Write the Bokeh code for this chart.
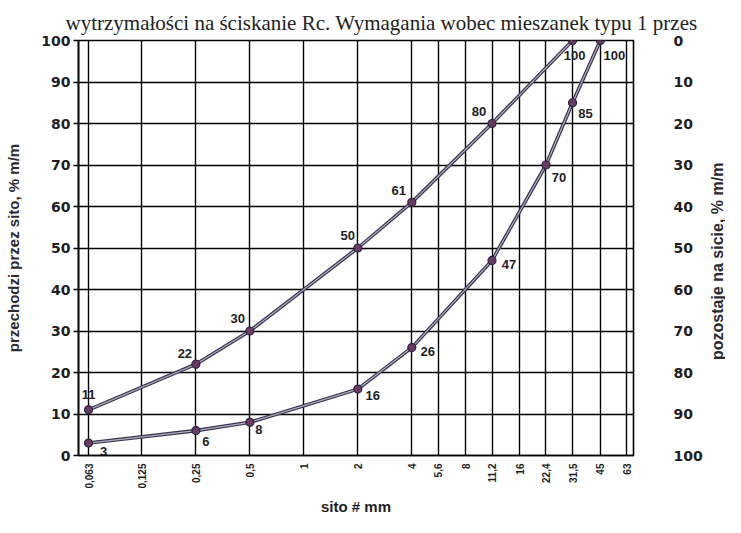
from bokeh.plotting import figure
from bokeh.layouts import row
from bokeh.models import Range1d, LinearAxis, FixedTicker
from bokeh.core.properties import value
from bokeh.embed import file_html
from bokeh.resources import INLINE

# ---- data ----
sieve_sizes = [0.063, 0.125, 0.25, 0.5, 1, 2, 4, 5.6, 8, 11.2, 16, 22.4, 31.5, 45, 63]
sieve_labels = ["0,063", "0,125", "0,25", "0,5", "1", "2", "4", "5,6", "8",
                "11,2", "16", "22,4", "31,5", "45", "63"]
pass_ticks = [0, 10, 20, 30, 40, 50, 60, 70, 80, 90, 100]
retained_ticks = [0, 10, 20, 30, 40, 50, 60, 70, 80, 90, 100]

upper_x = [0.063, 0.25, 0.5, 2, 4, 11.2, 31.5]
upper_y = [11, 22, 30, 50, 61, 80, 100]
lower_x = [0.063, 0.25, 0.5, 2, 4, 11.2, 22.4, 31.5, 45]
lower_y = [3, 6, 8, 16, 26, 47, 70, 85, 100]

# label offsets (screen px)
upper_dx = [0, -11, -12, -10, -13, -13, 2]
upper_dy = [-15, -11, -13, -13, -12, -12, 15]
lower_dx = [15, 10, 9, 15, 16, 17, 13, 13, 14]
lower_dy = [8, 11, 7, 6, 4, 4, 12, 11, 15]

INK = "#1e1e24"
SANS = "Liberation Sans"
W, H = 705, 517
TOP, BOTTOM = 40, 55

p = figure(width=W, height=H, x_axis_type="log",
           x_range=Range1d(0.0554, 68.9), y_range=Range1d(0, 100),
           output_backend="svg", toolbar_location=None,
           min_border_left=78, min_border_right=69,
           min_border_top=TOP, min_border_bottom=BOTTOM)
p.background_fill_color = "white"
p.border_fill_color = "white"
p.outline_line_color = "black"
p.outline_line_width = 1.6

# header line from the scanned page
p.title.text = "wytrzymałości na ściskanie Rc. Wymagania wobec mieszanek typu 1 przes"
p.title.text_font = "Liberation Serif"
p.title.text_font_style = "normal"
p.title.text_font_size = "21px"
p.title.text_color = "#222222"
p.title.align = "left"
p.title.offset = -13
p.title.standoff = 12

# grids
p.xgrid.ticker = FixedTicker(ticks=sieve_sizes)
p.ygrid.ticker = FixedTicker(ticks=pass_ticks)
for g in (p.xgrid, p.ygrid):
    g.grid_line_color = "black"
    g.grid_line_width = 1.4
    g.grid_line_alpha = 1.0

# bottom axis
xa = p.xaxis[0]
xa.ticker = FixedTicker(ticks=sieve_sizes)
xa.major_label_overrides = {s: l for s, l in zip(sieve_sizes, sieve_labels)}
xa.major_label_orientation = 1.5707963
xa.major_label_text_font = SANS
xa.major_label_text_font_style = "bold"
xa.major_label_text_font_size = "10px"
xa.major_label_text_color = INK
xa.major_label_standoff = 8
xa.major_tick_out = 0
xa.major_tick_in = 0
xa.minor_tick_line_color = None
xa.axis_line_color = "black"
xa.axis_line_width = 1.6
xa.axis_label = "sito # mm"
xa.axis_label_text_font = SANS
xa.axis_label_text_font_style = "bold"
xa.axis_label_text_font_size = "15px"
xa.axis_label_text_color = INK
xa.axis_label_standoff = 6

# left axis
ya = p.yaxis[0]
ya.ticker = FixedTicker(ticks=pass_ticks)
ya.major_label_text_font = "DejaVu Sans"
ya.major_label_text_font_style = "bold"
ya.major_label_text_font_size = "14px"
ya.major_label_text_color = INK
ya.major_tick_out = 5
ya.major_tick_in = 0
ya.major_tick_line_width = 1.4
ya.minor_tick_line_color = None
ya.major_label_standoff = 3
ya.axis_line_width = 1.6
ya.axis_label = "przechodzi przez sito, % m/m"
ya.axis_label_text_font = SANS
ya.axis_label_text_font_style = "bold"
ya.axis_label_text_font_size = "15px"
ya.axis_label_text_color = "#2a2a30"
ya.axis_label_standoff = 16

# right axis (retained on sieve)
p.extra_y_ranges = {"retained": Range1d(100, 0)}
ra = LinearAxis(y_range_name="retained", ticker=FixedTicker(ticks=retained_ticks))
ra.major_label_text_font = "DejaVu Sans"
ra.major_label_text_font_style = "bold"
ra.major_label_text_font_size = "14px"
ra.major_label_text_color = INK
ra.major_tick_out = 0
ra.major_tick_in = 0
ra.major_tick_line_color = None
ra.minor_tick_line_color = None
ra.axis_line_color = None
ra.major_label_standoff = 40
p.add_layout(ra, "right")

# curves
for xs, ys in ((upper_x, upper_y), (lower_x, lower_y)):
    p.line(xs, ys, line_width=3.6, line_color="#3a3550")
    p.line(xs, ys, line_width=1.2, line_color="#b4abc0")
    p.scatter(xs, ys, size=8, fill_color="#6a3a62", line_color="#2c2440", line_width=1.2)

p.text(x=upper_x, y=upper_y, text=[str(v) for v in upper_y],
       x_offset=upper_dx, y_offset=upper_dy, text_align="center", text_baseline="middle",
       text_font=value(SANS), text_font_style="bold", text_font_size="13px", text_color=INK)
p.text(x=lower_x, y=lower_y, text=[str(v) for v in lower_y],
       x_offset=lower_dx, y_offset=lower_dy, text_align="center", text_baseline="middle",
       text_font=value(SANS), text_font_style="bold", text_font_size="13px", text_color=INK)

# narrow strip carrying the right-hand title, read bottom-to-top
p2 = figure(width=20, height=H, x_range=Range1d(0, 1), y_range=Range1d(0, 1),
            output_backend="svg", toolbar_location=None,
            min_border_left=0, min_border_right=0,
            min_border_top=TOP, min_border_bottom=BOTTOM)
p2.outline_line_color = None
p2.border_fill_color = "white"
p2.background_fill_color = "white"
p2.xaxis.visible = False
p2.grid.visible = False
ax2 = p2.yaxis[0]
ax2.ticker = FixedTicker(ticks=[])
ax2.axis_label = "pozostaje na sicie, % m/m" + "\u00a0" * 6
ax2.axis_label_text_font = SANS
ax2.axis_label_text_font_style = "bold"
ax2.axis_label_text_font_size = "16px"
ax2.axis_label_text_color = "#2a2a30"
ax2.axis_label_standoff = 0
ax2.major_label_standoff = 0
ax2.major_tick_out = 0
ax2.major_tick_in = 0
ax2.major_tick_line_color = None
ax2.minor_tick_line_color = None
ax2.axis_line_color = None

layout = row(p, p2)
open("out.html", "w").write(file_html(layout, INLINE))
